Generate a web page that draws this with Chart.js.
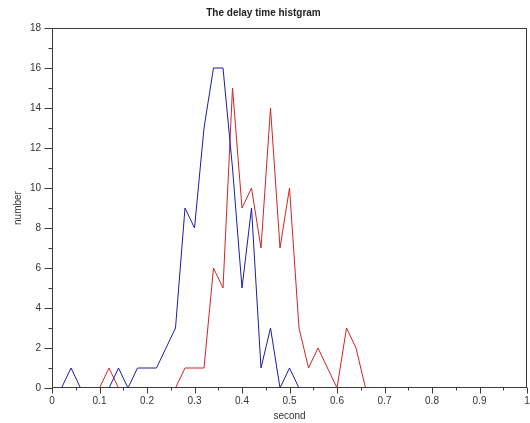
<!DOCTYPE html>
<html>
<head>
<meta charset="utf-8">
<script src="https://cdn.jsdelivr.net/npm/chart.js@4/dist/chart.umd.min.js"></script>
<style>
  html, body { margin: 0; padding: 0; background: #fff; }
  #c { display: block; }
</style>
</head>
<body>
<canvas id="c" width="530" height="423"></canvas>
<script>
// bin centres (seconds)
const binX = [0.02, 0.04, 0.06, 0.08, 0.10, 0.12, 0.14, 0.16, 0.18, 0.20, 0.22,
              0.24, 0.26, 0.28, 0.30, 0.32, 0.34, 0.36, 0.38, 0.40, 0.42, 0.44,
              0.46, 0.48, 0.50, 0.52, 0.54, 0.56, 0.58, 0.60, 0.62, 0.64, 0.66];
// blue series counts
const blueCounts = [0, 1, 0, 0, 0, 0, 1, 0, 1, 1, 1,
                    2, 3, 9, 8, 13, 16, 16, 11, 5, 9, 1,
                    3, 0, 1, 0, null, null, null, null, null, null, null];
// red series counts
const redCounts = [null, null, null, null, 0, 1, 0, 0, 0, 0, 0,
                   0, 0, 1, 1, 1, 6, 5, 15, 9, 10, 7,
                   14, 7, 10, 3, 1, 2, 1, 0, 3, 2, 0];

const titleText = 'The delay time histgram';
const xLabel = 'second';
const yLabel = 'number';

const toPoints = (vals) => binX.map((x, i) => ({ x: x, y: vals[i] }));

const framePlugin = {
  id: 'frame',
  afterDatasetsDraw(chart) {
    const { ctx, chartArea: a, scales: { x, y } } = chart;
    ctx.save();
    ctx.strokeStyle = '#3a3a3a';
    ctx.lineWidth = 1;
    const L = Math.round(a.left) + 0.5, R = Math.round(a.right) - 0.5;
    const T = Math.round(a.top) + 0.5, B = Math.round(a.bottom) - 0.5;
    ctx.strokeRect(L, T, R - L, B - T);
    ctx.beginPath();
    const xt = x.ticks;
    xt.forEach((t, i) => {
      const px = Math.round(x.getPixelForValue(t.value)) + 0.5;
      ctx.moveTo(px, B); ctx.lineTo(px, B + 6);
      if (i < xt.length - 1) {
        const m = Math.round(x.getPixelForValue((t.value + xt[i + 1].value) / 2)) + 0.5;
        ctx.moveTo(m, B); ctx.lineTo(m, B + 3);
      }
    });
    const yt = y.ticks;
    yt.forEach((t, i) => {
      const py = Math.round(y.getPixelForValue(t.value)) + 0.5;
      ctx.moveTo(L, py); ctx.lineTo(L - 8, py);
      if (i < yt.length - 1) {
        const m = Math.round(y.getPixelForValue((t.value + yt[i + 1].value) / 2)) + 0.5;
        ctx.moveTo(L, m); ctx.lineTo(L - 4, m);
      }
    });
    ctx.stroke();
    ctx.restore();
  }
};

const fontFam = '"Liberation Sans", Arial, Helvetica, sans-serif';

new Chart(document.getElementById('c'), {
  type: 'line',
  data: {
    datasets: [
      {
        data: toPoints(blueCounts),
        borderColor: '#1c1ca8',
        borderWidth: 1,
        pointRadius: 0,
        tension: 0,
        spanGaps: false,
        fill: false
      },
      {
        data: toPoints(redCounts),
        borderColor: '#d02424',
        borderWidth: 1,
        pointRadius: 0,
        tension: 0,
        spanGaps: false,
        fill: false
      }
    ]
  },
  options: {
    responsive: false,
    animation: false,
    devicePixelRatio: 1,
    layout: { padding: { left: 0, right: 3, top: 0, bottom: 0 } },
    plugins: {
      legend: { display: false },
      tooltip: { enabled: false },
      title: {
        display: true,
        text: titleText,
        color: '#222',
        font: { family: fontFam, size: 10, weight: 'bold' },
        padding: { top: 7, bottom: 9 }
      }
    },
    scales: {
      x: {
        type: 'linear',
        min: 0,
        max: 1,
        grid: { display: false, drawTicks: false },
        border: { display: false },
        ticks: {
          stepSize: 0.1,
          padding: 7,
          color: '#333',
          font: { family: fontFam, size: 10 },
          maxRotation: 0,
          autoSkip: false,
          callback: (v) => String(parseFloat(Number(v).toFixed(2)))
        },
        title: {
          display: true,
          text: xLabel,
          color: '#333',
          font: { family: fontFam, size: 10 },
          padding: { top: 0, bottom: 1 }
        },
        afterFit(s) { s.height = 35; s.paddingRight = 0; }
      },
      y: {
        min: 0,
        max: 18,
        grid: { display: false, drawTicks: false },
        border: { display: false },
        ticks: {
          stepSize: 2,
          padding: 11,
          color: '#333',
          font: { family: fontFam, size: 10 }
        },
        title: {
          display: true,
          text: yLabel,
          color: '#333',
          font: { family: fontFam, size: 10 },
          padding: { top: 12, bottom: 0 }
        },
        afterFit(s) { s.width = 52; }
      }
    }
  },
  plugins: [framePlugin]
});
</script>
</body>
</html>
